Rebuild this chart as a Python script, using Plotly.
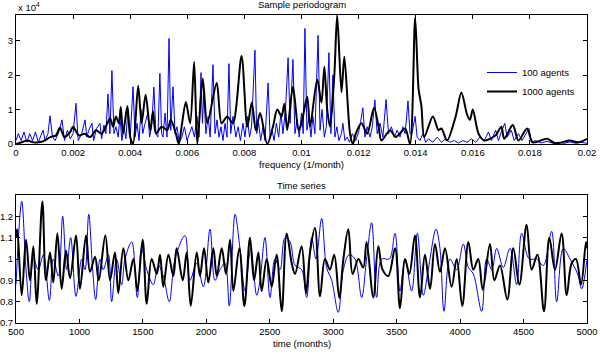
import plotly.graph_objects as go

# ---------------- data: sample periodogram (values in units of 1e4) ----------------
freq_100 = [0.0, 0.00008, 0.00018, 0.00028, 0.00038, 0.00048, 0.00058, 0.00068, 0.00078, 0.00088,
            0.00095, 0.00102, 0.00112, 0.00119, 0.00128, 0.00137, 0.00150, 0.00161, 0.00170, 0.00180,
            0.00190, 0.00200, 0.00210, 0.00218, 0.00230, 0.00242, 0.00248, 0.00255, 0.00266, 0.00272,
            0.00282, 0.00294, 0.00300, 0.00308, 0.00315, 0.00322, 0.00329, 0.00336, 0.00343, 0.00350,
            0.00358, 0.00364, 0.00371, 0.00378, 0.00385, 0.00392, 0.00400, 0.00410, 0.00417, 0.00424,
            0.00431, 0.00438, 0.00444, 0.00452, 0.00462, 0.00468, 0.00475, 0.00483, 0.00490, 0.00497,
            0.00504, 0.00510, 0.00515, 0.00522, 0.00529, 0.00536, 0.00542, 0.00550, 0.00557, 0.00564,
            0.00572, 0.00581, 0.00590, 0.00599, 0.00608, 0.00616, 0.00625, 0.00634, 0.00641, 0.00648,
            0.00653, 0.00658, 0.00665, 0.00673, 0.00680, 0.00690, 0.00697, 0.00704, 0.00711, 0.00718,
            0.00725, 0.00732, 0.00739, 0.00746, 0.00752, 0.00760, 0.00770, 0.00778, 0.00786, 0.00795,
            0.00802, 0.00810, 0.00818, 0.00825, 0.00837, 0.00843, 0.00850, 0.00857, 0.00865, 0.00872,
            0.00883, 0.00890, 0.00897, 0.00904, 0.00912, 0.00920, 0.00928, 0.00935, 0.00944, 0.00953,
            0.00960, 0.00970, 0.00977, 0.00985, 0.00992, 0.01000, 0.01006, 0.01012, 0.01019, 0.01026,
            0.01033, 0.01040, 0.01047, 0.01058, 0.01065, 0.01072, 0.01080, 0.01087, 0.01096, 0.01103,
            0.01110, 0.01117, 0.01124, 0.01131, 0.01140, 0.01145, 0.01152, 0.01160, 0.01168, 0.01178,
            0.01190, 0.01200, 0.01207, 0.01215, 0.01222, 0.01230, 0.01240, 0.01248, 0.01257, 0.01265,
            0.01275, 0.01285, 0.01296, 0.01305, 0.01315, 0.01325, 0.01335, 0.01345, 0.01355, 0.01363,
            0.01373, 0.01380, 0.01387, 0.01398, 0.01405, 0.01415, 0.01425, 0.01435, 0.01445, 0.01460,
            0.01475, 0.01490, 0.01505, 0.01520, 0.01535, 0.01550, 0.01565, 0.01580, 0.01595, 0.01610,
            0.01625, 0.01640, 0.01655, 0.01665, 0.01680, 0.01690, 0.01700, 0.01712, 0.01720, 0.01735,
            0.01745, 0.01760, 0.01772, 0.01785, 0.01797, 0.01805, 0.01820, 0.01840, 0.01860, 0.01880,
            0.01900, 0.01920, 0.01940, 0.01960, 0.01980, 0.02000]
power_100 = [0.1, 0.3, 0.1, 0.35, 0.05, 0.3, 0.1, 0.35, 0.05, 0.25,
             0.4, 0.1, 0.3, 0.82, 0.2, 0.1, 0.35, 0.7, 0.1, 0.4,
             0.15, 0.3, 1.18, 0.1, 0.3, 0.7, 0.2, 0.4, 0.6, 0.1,
             0.45, 0.6, 0.15, 0.55, 0.3, 1.45, 0.3, 2.13, 0.3, 0.5,
             0.2, 0.8, 0.1, 0.5, 0.15, 1.0, 0.2, 1.66, 0.2, 0.6,
             0.1, 1.0, 0.3, 0.6, 0.9, 0.2, 0.5, 1.65, 0.3, 0.2,
             2.05, 0.3, 0.2, 0.9, 0.2, 3.06, 0.4, 1.66, 0.3, 0.5,
             0.05, 0.2, 0.5, 0.1, 0.3, 0.5, 0.2, 0.8, 0.2, 2.07,
             0.6, 1.5, 0.3, 0.8, 0.2, 2.3, 0.3, 0.7, 0.2, 0.5,
             0.1, 0.6, 0.2, 2.33, 0.3, 0.8, 0.2, 0.5, 0.1, 0.6,
             0.2, 0.8, 0.2, 0.5, 2.72, 0.3, 0.6, 0.1, 0.5, 0.1,
             1.77, 0.2, 0.4, 0.1, 0.6, 0.2, 0.9, 0.3, 1.0, 2.5,
             0.6, 2.45, 0.3, 0.7, 0.2, 0.9, 0.3, 3.35, 0.4, 0.8,
             0.2, 0.8, 0.3, 3.15, 0.4, 1.0, 0.2, 0.5, 2.65, 0.3,
             2.0, 0.2, 0.5, 0.1, 0.3, 0.6, 0.1, 0.2, 0.05, 0.3,
             0.1, 0.35, 0.65, 1.05, 0.2, 0.5, 0.2, 0.5, 1.28, 0.3,
             0.6, 0.2, 1.29, 0.3, 0.5, 0.2, 0.4, 0.2, 0.5, 0.3,
             1.25, 0.3, 0.3, 0.8, 0.2, 0.1, 0.3, 0.05, 0.15, 0.05,
             0.2, 0.05, 0.15, 0.05, 0.1, 0.03, 0.1, 0.05, 0.15, 0.05,
             0.2, 0.1, 0.35, 0.1, 0.4, 0.1, 0.35, 0.6, 0.2, 0.4,
             0.1, 0.3, 0.1, 0.3, 0.45, 0.05, 0.1, 0.03, 0.08, 0.02,
             0.05, 0.02, 0.06, 0.02, 0.05, 0.02]

freq_1000 = [0.0, 0.0002, 0.0004, 0.0006, 0.0008, 0.0010, 0.0012, 0.0014, 0.00154, 0.0017,
             0.0019, 0.0020, 0.0022, 0.0024, 0.0026, 0.0028, 0.0030, 0.0032, 0.0033, 0.0034,
             0.0035, 0.0036, 0.00367, 0.00375, 0.0039, 0.0040, 0.0041, 0.00428, 0.0044, 0.00454,
             0.0047, 0.0048, 0.0049, 0.0051, 0.0053, 0.00542, 0.0056, 0.0057, 0.0058, 0.00595,
             0.0061, 0.00624, 0.00635, 0.00654, 0.0067, 0.00703, 0.0072, 0.0074, 0.0076, 0.0079,
             0.0081, 0.00826, 0.0084, 0.00855, 0.0088, 0.0090, 0.00915, 0.0093, 0.0094, 0.0095,
             0.0097, 0.0099, 0.0100, 0.0102, 0.0103, 0.01055, 0.0107, 0.0108, 0.0109, 0.0110,
             0.01115, 0.01125, 0.0114, 0.0115, 0.0117, 0.0118, 0.0119, 0.0121, 0.0123, 0.01254,
             0.0127, 0.0128, 0.0131, 0.0133, 0.01363, 0.0138, 0.01398, 0.0141, 0.0142, 0.0143,
             0.0146, 0.0148, 0.0149, 0.0151, 0.0154, 0.0156, 0.0158, 0.0159, 0.0160, 0.0162,
             0.0164, 0.0166, 0.0168, 0.0170, 0.0171, 0.0174, 0.0176, 0.0179, 0.0181, 0.0186,
             0.0189, 0.0194, 0.0197, 0.0200]
power_1000 = [0.0, 0.05, 0.1, 0.05, 0.05, 0.1, 0.2, 0.25, 0.47, 0.2,
              0.35, 0.5, 0.25, 0.3, 0.2, 0.4, 0.3, 0.6, 0.75, 0.5,
              0.8, 0.6, 1.07, 0.3, 1.1, 0.2, 0.0, 1.69, 0.6, 1.43,
              0.4, 0.95, 0.3, 0.5, 0.4, 0.7, 0.3, 0.0, 0.5, 1.22,
              0.6, 2.38, 0.0, 1.9, 0.6, 1.77, 0.6, 0.8, 0.6, 2.55,
              0.5, 1.2, 0.4, 0.9, 0.0, 0.5, 1.0, 0.8, 1.17, 0.4,
              1.66, 0.4, 0.6, 1.37, 0.5, 1.87, 1.2, 2.24, 1.0, 0.5,
              2.0, 3.74, 1.5, 2.53, 0.3, 0.0, 0.3, 0.6, 0.3, 1.05,
              0.5, 0.1, 0.4, 0.2, 0.45, 0.0, 3.66, 1.6, 1.1, 0.2,
              0.8, 0.4, 0.45, 0.1, 0.8, 1.49, 0.85, 0.7, 1.0, 0.3,
              0.1, 0.15, 0.25, 0.5, 0.15, 0.55, 0.1, 0.45, 0.05, 0.15,
              0.02, 0.1, 0.05, 0.15]

# ---------------- data: time series ----------------
t_100 = [500, 545, 579, 605, 637, 676, 716, 763, 794, 834, 868, 899, 931, 973, 1018, 1044, 1073,
         1104, 1128, 1162, 1188, 1228, 1254, 1293, 1333, 1359, 1412, 1456, 1490, 1530, 1582, 1622,
         1661, 1708, 1753, 1832, 1871, 1924, 1977, 2029, 2068, 2108, 2147, 2181, 2226, 2265, 2305,
         2350, 2397, 2423, 2462, 2502, 2541, 2581, 2620, 2660, 2699, 2751, 2791, 2830, 2864, 2909,
         2948, 2988, 3040, 3080, 3125, 3171, 3224, 3263, 3303, 3342, 3382, 3442, 3487, 3526, 3566,
         3618, 3663, 3710, 3749, 3810, 3841, 3873, 3920, 3973, 4025, 4065, 4104, 4170, 4209, 4250,
         4288, 4340, 4393, 4446, 4485, 4545, 4603, 4656, 4721, 4761, 4813, 4866, 4926, 4958, 5000]
v_100 = [0.88, 1.27, 0.95, 0.80, 1.00, 0.95, 1.02, 0.806, 1.00, 0.92, 1.20, 0.95, 1.10, 0.825, 1.00, 0.95, 1.21,
         0.95, 0.81, 1.00, 0.95, 1.02, 0.80, 1.00, 0.88, 1.00, 1.08, 0.82, 1.05, 0.95, 0.88, 0.97,
         0.92, 0.80, 1.00, 1.11, 0.90, 0.98, 0.87, 1.14, 0.90, 0.95, 0.98, 0.78, 1.21, 1.05, 0.85,
         1.05, 0.83, 0.90, 1.10, 0.82, 1.00, 0.95, 1.10, 1.08, 0.97, 0.95, 0.82, 1.10, 1.00, 1.19,
         0.96, 0.90, 0.75, 0.95, 1.02, 1.00, 0.82, 1.00, 1.17, 0.82, 1.00, 1.00, 1.12, 0.85, 1.00,
         0.85, 1.12, 0.83, 0.95, 1.14, 1.05, 0.755, 1.00, 0.95, 1.07, 0.96, 0.93, 0.755, 1.00, 0.95,
         1.05, 0.96, 1.05, 0.88, 1.12, 1.00, 1.00, 0.97, 1.13, 0.80, 1.05, 1.00, 0.93, 0.86, 1.00]

t_1000 = [500, 510, 545, 579, 610, 637, 663, 708, 736, 768, 794, 826, 860, 894, 926, 973, 1004, 1052,
          1083, 1123, 1152, 1204, 1241, 1280, 1306, 1346, 1385, 1425, 1456, 1498, 1530, 1569, 1609,
          1635, 1661, 1701, 1740, 1766, 1814, 1845, 1877, 1924, 1950, 1982, 2016, 2055, 2082, 2121,
          2155, 2187, 2213, 2260, 2300, 2344, 2376, 2410, 2436, 2476, 2515, 2554, 2594, 2633, 2673,
          2699, 2751, 2785, 2817, 2856, 2896, 2935, 2974, 3008, 3048, 3080, 3119, 3153, 3198, 3237,
          3263, 3316, 3355, 3389, 3434, 3487, 3526, 3566, 3600, 3644, 3684, 3723, 3763, 3802, 3841,
          3881, 3933, 3973, 4017, 4065, 4104, 4143, 4178, 4235, 4270, 4314, 4372, 4419, 4467, 4524,
          4564, 4609, 4661, 4703, 4748, 4800, 4840, 4879, 4913, 4953, 4992, 5000]
v_1000 = [1.10, 1.14, 0.83, 1.09, 0.90, 1.06, 0.79, 1.27, 0.90, 1.03, 0.89, 1.12, 0.86, 1.04, 0.91, 1.11, 0.86, 1.11,
          0.94, 1.01, 0.90, 1.11, 0.90, 1.03, 0.84, 1.05, 0.90, 1.00, 0.85, 1.09, 0.79, 1.00, 0.93,
          1.02, 0.87, 1.02, 0.92, 1.05, 0.90, 1.03, 0.78, 1.03, 0.92, 1.05, 0.89, 1.05, 0.92, 1.05,
          0.93, 1.09, 0.85, 1.05, 0.78, 1.10, 0.90, 1.03, 0.85, 1.00, 0.87, 1.02, 0.755, 1.12, 0.98,
          0.93, 1.06, 0.84, 1.03, 1.145, 0.825, 1.00, 0.95, 1.02, 0.817, 1.00, 1.14, 0.93, 1.00, 0.96,
          1.08, 0.82, 1.06, 0.95, 0.92, 1.05, 0.77, 1.00, 0.93, 1.11, 0.82, 1.02, 0.86, 1.07, 0.94,
          1.05, 0.87, 1.00, 0.78, 1.08, 0.95, 1.00, 0.856, 1.07, 0.90, 0.97, 0.81, 1.05, 0.88, 1.16,
          0.95, 1.02, 0.755, 1.10, 0.95, 1.12, 0.83, 0.98, 1.00, 0.88, 1.08, 1.05]

labels = ["100 agents", "1000 agents"]
freq_ticks = [0, 0.002, 0.004, 0.006, 0.008, 0.01, 0.012, 0.014, 0.016, 0.018, 0.02]
freq_ticktext = ["0", "0.002", "0.004", "0.006", "0.008", "0.01", "0.012", "0.014", "0.016", "0.018", "0.02"]
pow_ticks = [0, 1, 2, 3]
time_ticks = [500, 1000, 1500, 2000, 2500, 3000, 3500, 4000, 4500, 5000]
ts_ticks = [0.7, 0.8, 0.9, 1.0, 1.1, 1.2]
ts_ticktext = ["0.7", "0.8", "0.9", "1", "1.1", "1.2"]

BLUE = "#0000ff"
BLACK = "#000000"
FONT = "Liberation Sans, Arial, sans-serif"
FS = 9.5

fig = go.Figure()
fig.add_trace(go.Scatter(x=freq_100, y=power_100, mode="lines", name=labels[0],
                         line=dict(color=BLUE, width=1), xaxis="x", yaxis="y"))
fig.add_trace(go.Scatter(x=freq_1000, y=power_1000, mode="lines", name=labels[1],
                         line=dict(color=BLACK, width=2, shape="spline", smoothing=0.8),
                         xaxis="x", yaxis="y"))
fig.add_trace(go.Scatter(x=t_100, y=v_100, mode="lines", showlegend=False,
                         line=dict(color=BLUE, width=1, shape="spline", smoothing=1),
                         xaxis="x2", yaxis="y2"))
fig.add_trace(go.Scatter(x=t_1000, y=v_1000, mode="lines", showlegend=False,
                         line=dict(color=BLACK, width=2, shape="spline", smoothing=1),
                         xaxis="x2", yaxis="y2"))

axis_common = dict(showline=True, linecolor="black", linewidth=1, mirror="ticks",
                   ticks="inside", ticklen=4, tickcolor="black", showgrid=False,
                   zeroline=False, automargin=False,
                   tickfont=dict(family=FONT, size=FS, color="black"))

H_TOP, H_BOT = 15, 33
PH = 356 - H_TOP - H_BOT


def py(p):
    return (356 - H_BOT - p) / PH


fig.update_layout(
    template="none",
    width=600, height=356,
    margin=dict(l=16, r=13, t=H_TOP, b=H_BOT, pad=0),
    paper_bgcolor="white", plot_bgcolor="white",
    font=dict(family=FONT, size=FS, color="black"),
    xaxis=dict(domain=[0, 1], range=[0, 0.02], tickvals=freq_ticks, ticktext=freq_ticktext,
               anchor="y", **axis_common),
    yaxis=dict(domain=[py(144), 1], range=[0, 3.74], tickvals=pow_ticks, anchor="x", **axis_common),
    xaxis2=dict(domain=[0, 1], range=[500, 5000], tickvals=time_ticks, anchor="y2", **axis_common),
    yaxis2=dict(domain=[0, py(195)], range=[0.7, 1.3], tickvals=ts_ticks, ticktext=ts_ticktext,
                anchor="x2", **axis_common),
    legend=dict(x=(482 - 16) / 571, y=py(58), xanchor="left", yanchor="top",
                bgcolor="rgba(0,0,0,0)", borderwidth=0, font=dict(family=FONT, size=FS),
                tracegroupgap=0),
    showlegend=True,
)

ann = [
    dict(text="Sample periodogram", x=0.5, y=py(5)),
    dict(text="frequency (1/month)", x=0.5, y=py(164)),
    dict(text="Time series", x=0.5, y=py(185)),
    dict(text="time (months)", x=0.5, y=py(343)),
]
for a in ann:
    fig.add_annotation(xref="paper", yref="paper", showarrow=False, xanchor="center",
                       yanchor="middle", font=dict(family=FONT, size=FS, color="black"), **a)
fig.add_annotation(xref="paper", yref="paper", showarrow=False, xanchor="left", yanchor="middle",
                   x=0.0, y=py(7), text="x 10<sup>4</sup>",
                   font=dict(family=FONT, size=FS, color="black"))

fig.write_html("out.html", config={"displayModeBar": False},
               post_script="document.body.style.margin='0';")
